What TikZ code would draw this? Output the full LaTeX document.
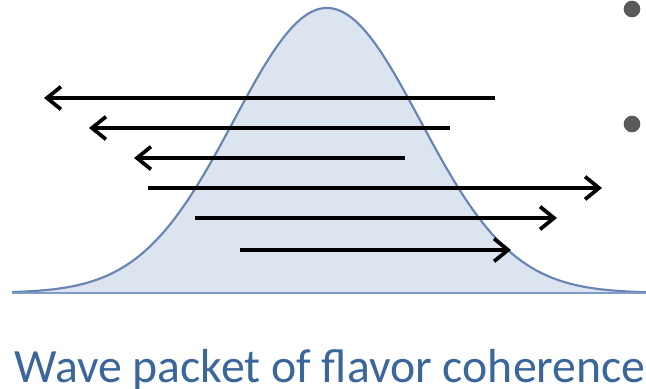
\documentclass[tikz,border=0pt]{standalone}
\usepackage{fontspec}
\setmainfont{Carlito}
\usetikzlibrary{arrows.meta}
\definecolor{curvefill}{HTML}{DCE4F0}
\definecolor{curveline}{HTML}{6784B4}
\definecolor{baselinecol}{HTML}{7F9CC8}
\definecolor{captioncol}{HTML}{3B6699}
\definecolor{bulletcol}{HTML}{5A5A5A}
\tikzset{
  ray/.style={line width=2.8pt, -{Straight Barb[length=10.5pt,width=17pt,line width=2.8pt]}},
  bulletdot/.style={circle, fill=bulletcol, inner sep=0pt, minimum size=12.5pt},
}
\begin{document}
\begin{tikzpicture}[x=0.75pt,y=-0.75pt]
\useasboundingbox (0,0) rectangle (646,389);
% Gaussian packet
\fill[curvefill] (12,293) -- plot[domain=12:646,samples=220,smooth] (\x,{293-285*exp(-0.5*((\x-327)/93)^2)}) -- (646,293) -- cycle;
\draw[curveline, line width=1.6pt] plot[domain=12:646,samples=220,smooth] (\x,{293-285*exp(-0.5*((\x-327)/93)^2)});
\coordinate (bl) at (12,293);
\coordinate (br) at (646,293);
\draw[baselinecol, line width=2.2pt] (bl) -- (br);
% arrows
\coordinate (a1s) at (495,98);  \coordinate (a1e) at (44,98);
\coordinate (a2s) at (450,128); \coordinate (a2e) at (89,128);
\coordinate (a3s) at (405,158); \coordinate (a3e) at (134,158);
\coordinate (a4s) at (148,188); \coordinate (a4e) at (602,188);
\coordinate (a5s) at (195,218); \coordinate (a5e) at (557,218);
\coordinate (a6s) at (240,250); \coordinate (a6e) at (511,250);
\draw[ray] (a1s) -- (a1e);
\draw[ray] (a2s) -- (a2e);
\draw[ray] (a3s) -- (a3e);
\draw[ray] (a4s) -- (a4e);
\draw[ray] (a5s) -- (a5e);
\draw[ray] (a6s) -- (a6e);
% bullets
\node[bulletdot] (b1) at (632,9) {};
\node[bulletdot] (b2) at (632,124) {};
% caption
\node[anchor=base west, inner sep=0pt, text=captioncol, font=\fontsize{35.8}{38}\selectfont] (cap) at (14,382) {Wave packet of flavor coherence};
\end{tikzpicture}
\end{document}
